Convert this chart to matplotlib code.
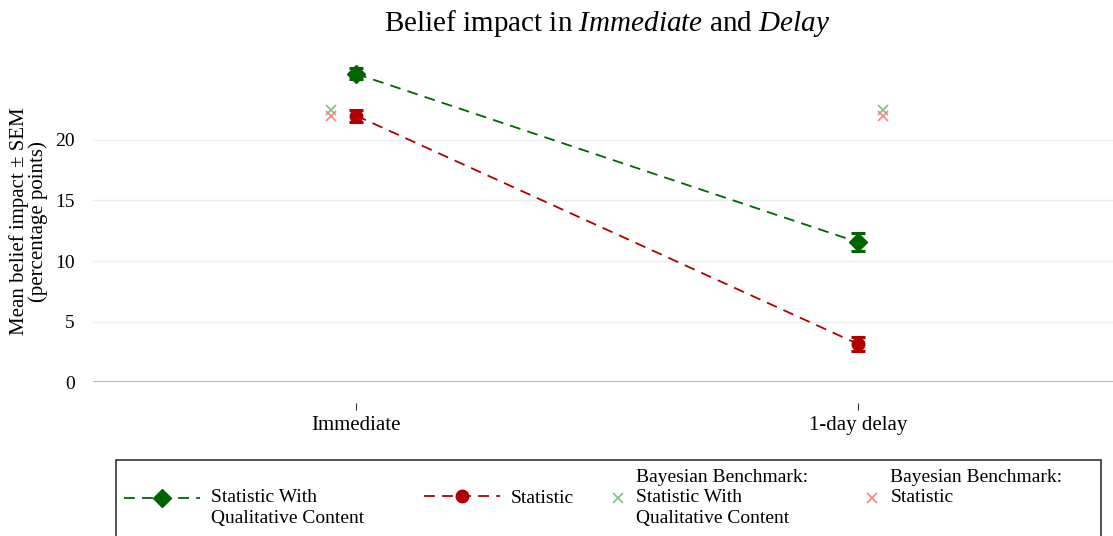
import matplotlib
matplotlib.use("Agg")
import matplotlib.pyplot as plt
from matplotlib.lines import Line2D
from matplotlib.patches import Rectangle

plt.rcParams["font.family"] = ["Liberation Serif", "DejaVu Serif"]
plt.rcParams["mathtext.fontset"] = "custom"
plt.rcParams["mathtext.rm"] = "Liberation Serif"
plt.rcParams["mathtext.it"] = "Liberation Serif:italic"

# data
conditions = ["Immediate", "1-day delay"]
qual_mean = [25.45, 11.55]
qual_sem = [0.45, 0.75]
stat_mean = [22.0, 3.15]
stat_sem = [0.5, 0.6]
bench_qual = [22.5, 22.5]
bench_stat = [22.0, 22.0]

green = "#006400"
red = "#b00000"
light_green = "#80c080"
light_red = "#ff8080"
dash = (6, 4)

fig = plt.figure(figsize=(11.13, 5.36), dpi=100)
ax = fig.add_axes([0.0836, 0.287, 0.9164, 0.599])

x = [0, 1]
bench_x = [-0.05, 1.05]

eb1 = ax.errorbar(x, qual_mean, yerr=qual_sem, color=green, ls="--", lw=1.3,
                  marker="D", ms=9, capsize=5, capthick=2.2, elinewidth=2, zorder=3)
eb1[0].set_dashes(dash)
eb2 = ax.errorbar(x, stat_mean, yerr=stat_sem, color=red, ls="--", lw=1.3,
                  marker="o", ms=9, capsize=5, capthick=2.2, elinewidth=2, zorder=3)
eb2[0].set_dashes(dash)
ax.plot(bench_x, bench_qual, ls="none", marker="x", ms=7, mew=1.2, color=light_green)
ax.plot(bench_x, bench_stat, ls="none", marker="x", ms=7, mew=1.2, color=light_red)

ax.set_xlim(-0.524, 1.508)
ax.set_ylim(0, 26.5)
ax.set_yticks([0, 5, 10, 15, 20])
ax.set_xticks(x)
ax.set_xticklabels(conditions)
ax.tick_params(axis="y", length=0, pad=13, labelsize=14)
ax.tick_params(axis="x", length=5, width=0.8, color="#333333", pad=4, labelsize=15)
for s in ["top", "right", "left"]:
    ax.spines[s].set_visible(False)
ax.spines["bottom"].set_position(("outward", 15))
ax.spines["bottom"].set_visible(False)
ax.grid(axis="y", color="#eeeeee", lw=1)
ax.axhline(0, color="#aaaaaa", lw=1.2, zorder=1)
ax.set_axisbelow(True)

ax.set_ylabel("Mean belief impact ± SEM\n(percentage points)", fontsize=15,
              linespacing=1.0, labelpad=5)
fig.suptitle(r"Belief impact in $\it{Immediate}$ and $\it{Delay}$",
             x=0.545, y=0.985, fontsize=21, va="top")

# legend: frame plus four single-entry legends
fig.patches.append(Rectangle((116 / 1113, -0.02), 985 / 1113, 1 - 460 / 536 + 0.02,
                             transform=fig.transFigure, fill=False,
                             edgecolor="#333333", lw=1.2))

h1 = Line2D([], [], color=green, ls="--", lw=1.3, marker="D", ms=9)
h2 = Line2D([], [], color=red, ls="--", lw=1.3, marker="o", ms=9)
h1.set_dashes(dash)
h2.set_dashes(dash)
entries = [
    (h1, "\nStatistic With\nQualitative Content", 124, 3.9),
    (h2, "Statistic", 424, 3.9),
    (Line2D([], [], color=light_green, ls="none", marker="x", ms=7, mew=1.2),
     "Bayesian Benchmark:\nStatistic With\nQualitative Content", 610, 0.8),
    (Line2D([], [], color=light_red, ls="none", marker="x", ms=7, mew=1.2),
     "Bayesian Benchmark:\nStatistic\n", 864, 0.8),
]
for handle, label, px, hl in entries:
    leg = fig.legend([handle], [label], loc="center left",
                     bbox_to_anchor=(px / 1113, 1 - 498 / 536),
                     frameon=False, fontsize=14, borderpad=0, borderaxespad=0,
                     handlelength=hl, handletextpad=0.55)
    for t in leg.get_texts():
        t.set_linespacing(1.3)

fig.savefig("out.png", dpi=100)
